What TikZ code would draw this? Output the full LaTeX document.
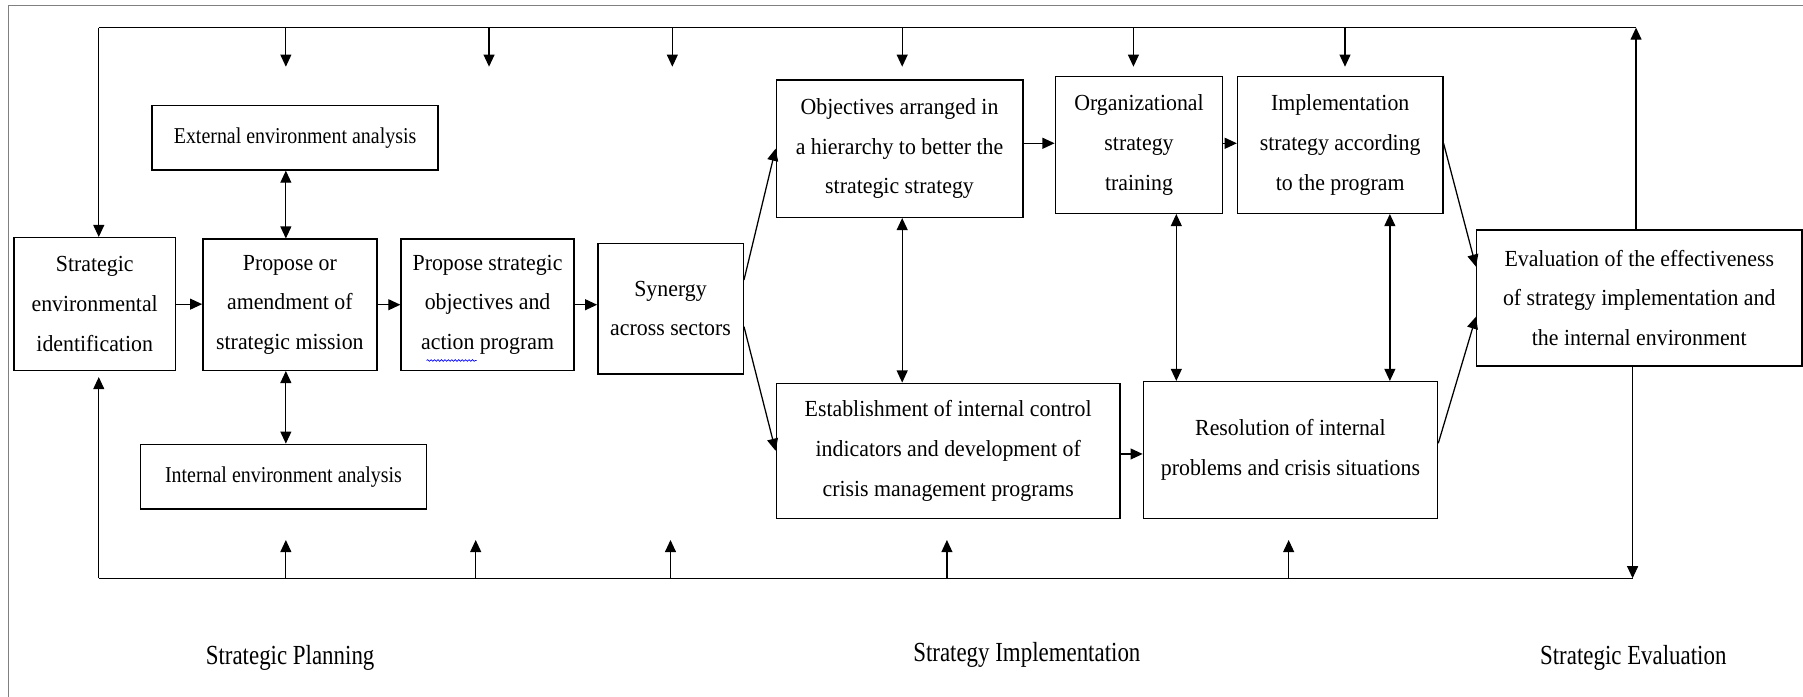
\documentclass[tikz,border=0pt]{standalone}
\usepackage{fontspec}
\setmainfont{Liberation Serif}
\newfontfamily\boxf{Liberation Serif}[FakeStretch=0.95]
\newfontfamily\anaf{Liberation Serif}[FakeStretch=0.88]
\newfontfamily\lblf{Liberation Serif}[FakeStretch=0.83]
\usetikzlibrary{arrows.meta,decorations.pathmorphing}
\tikzset{
  box/.style={draw, line width=1.2pt, inner sep=0pt, align=center,
    font=\boxf\fontsize{20}{34.5}\selectfont},
  anabox/.style={box, font=\anaf\fontsize{19.7}{30}\selectfont},
  lbl/.style={inner sep=0pt, anchor=base, font=\lblf\fontsize{24}{28}\selectfont},
  conn/.style={line width=1.1pt},
  tip/.tip={Triangle[length=10.5pt,width=9.5pt]},
  arr/.style={conn, -tip},
  darr/.style={conn, tip-tip},
  frame/.style={draw=gray, line width=1pt}
}
\begin{document}
\begin{tikzpicture}[x=1pt,y=-1pt]
\useasboundingbox (0,0) rectangle (1568,606);
\fill[white] (0,0) rectangle (1568,606);
% frame
\draw[frame] (7.3,606) -- (7.3,4.9) -- (1568,4.9);

% boxes
\node[box, minimum width=140.1pt, minimum height=115.6pt] (sei) at (82.35,264.5) {Strategic\\environmental\\identification};
\node[box, minimum width=151.4pt, minimum height=114pt] (prop) at (252.1,265) {Propose or\\amendment of\\strategic mission};
\node[box, minimum width=150.4pt, minimum height=114pt] (ps) at (424,265) {Propose strategic\\objectives and\\action program};
\node[box, minimum width=126.5pt, minimum height=113.6pt] (syn) at (583.15,268.4) {Synergy\\across sectors};
\node[anabox, minimum width=248.8pt, minimum height=56.2pt] (ext) at (256.6,119.7) {External environment analysis};
\node[anabox, minimum width=248.9pt, minimum height=56.2pt] (int) at (246.55,414.5) {Internal environment analysis};
\node[box, minimum width=214.4pt, minimum height=119.4pt] (obj) at (782.3,129.3) {Objectives arranged in\\a hierarchy to better the\\strategic strategy};
\node[box, minimum width=145.7pt, minimum height=118.8pt] (org) at (990.55,126.1) {Organizational\\strategy\\training};
\node[box, minimum width=178.6pt, minimum height=118.8pt] (impl) at (1165.5,126.1) {Implementation\\strategy according\\to the program};
\node[box, minimum width=299pt, minimum height=117.4pt] (est) at (824.6,392) {Establishment of internal control\\indicators and development of\\crisis management programs};
\node[box, minimum width=255.9pt, minimum height=118.8pt] (res) at (1122.25,391.3) {Resolution of internal\\problems and crisis situations};
\node[box, minimum width=282.8pt, minimum height=118.3pt] (eval) at (1425.6,259.15) {Evaluation of the effectiveness\\of strategy implementation and\\the internal environment};

% spell-check underline
\draw[blue, line width=0.6pt, decorate, decoration={snake, amplitude=0.7pt, segment length=3pt}] (371,313.5) -- (414.5,313.5);

% labels
\node[lbl] (lp) at (252.3,578.3) {Strategic Planning};
\node[lbl] (li) at (893,575.4) {Strategy Implementation};
\node[lbl] (le) at (1420.4,578.3) {Strategic Evaluation};

% loop coordinates
\coordinate (TL) at (85.9,24);
\coordinate (TR) at (1422.8,24);
\coordinate (BL) at (85.9,502.9);
\coordinate (BR) at (1419.8,502.9);

\draw[conn] (TL) -- (TR);
\draw[arr] (TL) -- (TL |- sei.north);
\draw[arr] (eval.north -| TR) -- (TR);
\draw[arr] (eval.south -| BR) -- (BR);
\draw[conn] (BR) -- (BL);
\draw[arr, shorten >=5pt] (BL) -- (BL |- sei.south);

\foreach \x in {248.6,425.3,584.7,784.6,985.7,1169.7}
  \draw[arr] (\x,24) -- (\x,58);
\foreach \x in {248.6,413.7,583.1,823.5,1120.7}
  \draw[arr] (\x,502.9) -- (\x,469.6);

% horizontal arrows
\draw[arr] (sei.east) -- (sei.east -| prop.west);
\draw[arr] (prop.east) -- (prop.east -| ps.west);
\draw[arr] (ps.east) -- (ps.east -| syn.west);
\draw[arr] ([yshift=4.7pt]obj.east) -- ([yshift=4.7pt]obj.east -| org.west);
\draw[arr] ([yshift=1.5pt]org.east) -- ([yshift=1.5pt]org.east -| impl.west);
\draw[arr] ([yshift=-2.8pt]est.east) -- ([yshift=-2.8pt]est.east -| res.west);

% double arrows
\draw[darr] ([xshift=-8pt]ext.south) -- ([xshift=-8pt]ext.south |- prop.north);
\draw[darr] ([xshift=-3.5pt]prop.south) -- ([xshift=-3.5pt]prop.south |- int.north);
\draw[darr] ([xshift=2.3pt]obj.south) -- ([xshift=2.3pt]obj.south |- est.north);
\draw[darr] ([xshift=32.45pt]org.south) -- ([xshift=32.45pt]org.south |- res.north);
\draw[darr] ([xshift=43.2pt]impl.south) -- ([xshift=43.2pt]impl.south |- res.north);

% diagonals
\draw[arr] ([yshift=24.9pt]syn.east) -- (obj.west);
\draw[arr] ([yshift=-15.6pt]syn.east) -- (est.west);
\draw[arr] ([yshift=1.5pt]impl.east) -- ([yshift=27.25pt]eval.west);
\draw[arr] ([yshift=5.8pt]res.east) -- ([yshift=-16.25pt]eval.west);
\end{tikzpicture}
\end{document}
